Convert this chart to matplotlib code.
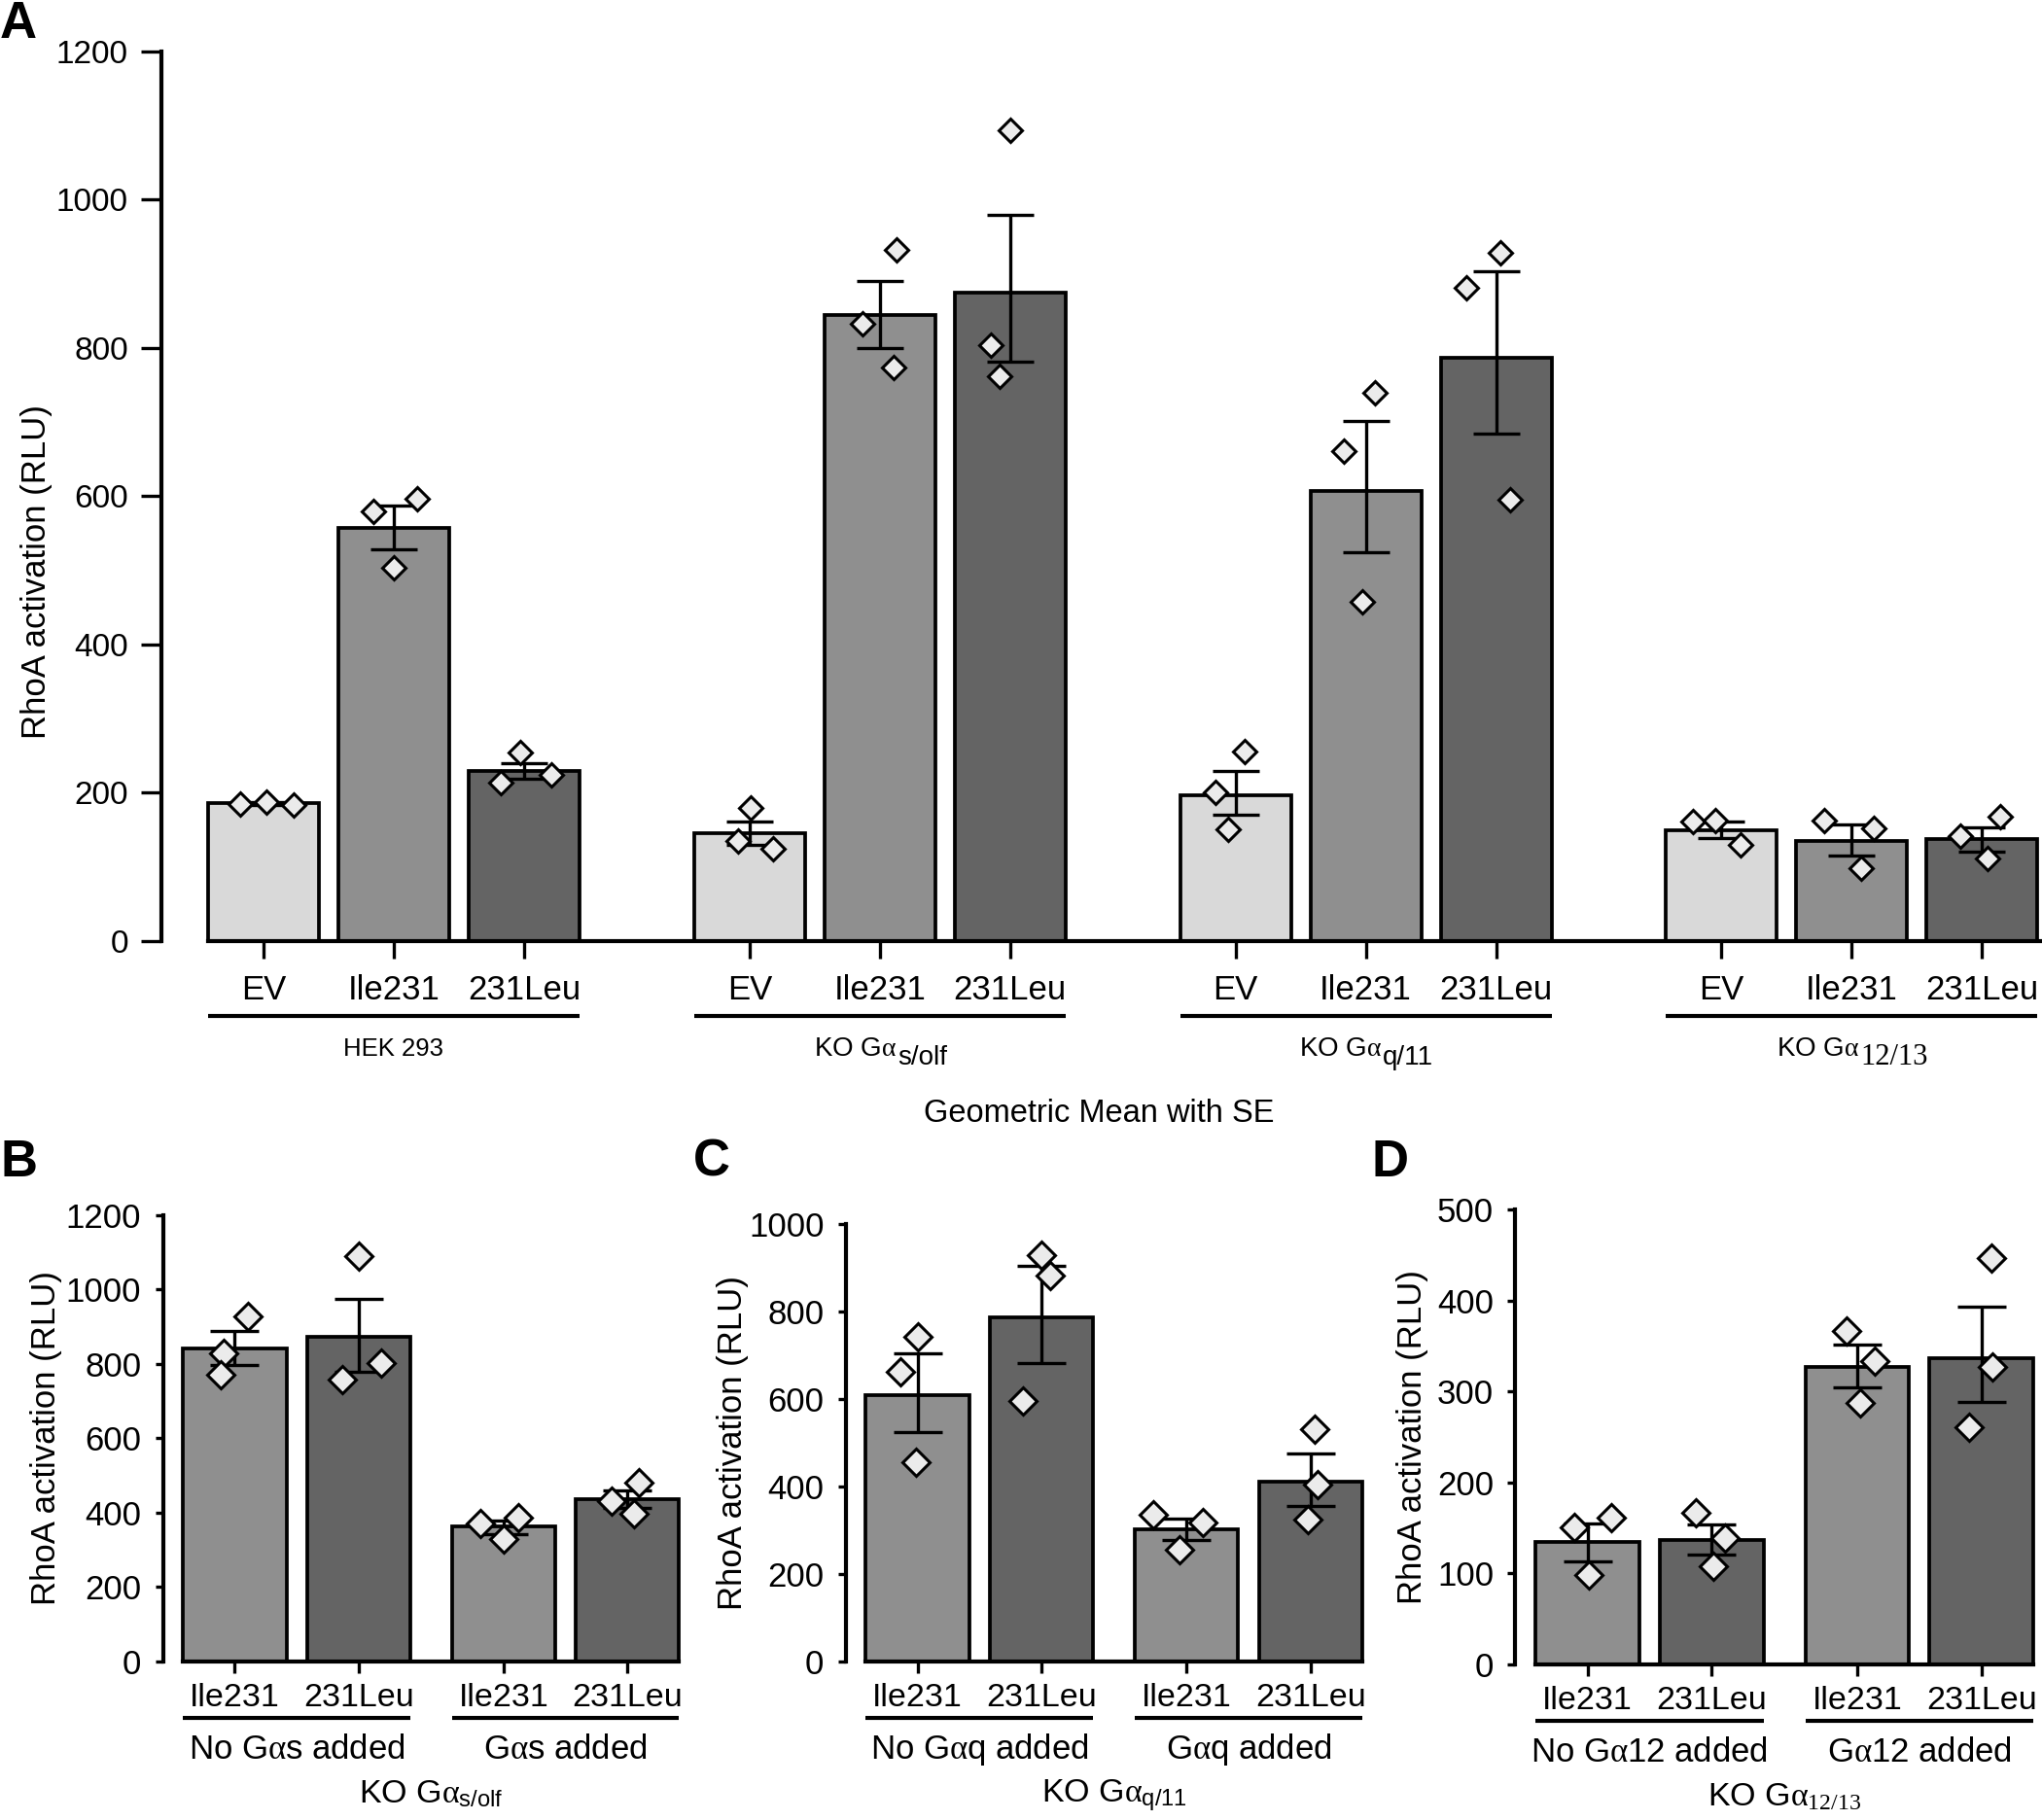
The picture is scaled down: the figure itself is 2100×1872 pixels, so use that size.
import matplotlib.pyplot as plt
from matplotlib.transforms import offset_copy
import numpy as np

plt.rcParams['font.family'] = ['Liberation Sans', 'DejaVu Sans']
plt.rcParams['mathtext.fontset'] = 'custom'
plt.rcParams['mathtext.rm'] = 'Liberation Sans'
plt.rcParams['mathtext.it'] = 'Liberation Serif'
plt.rcParams['mathtext.sf'] = 'Liberation Serif'

LIGHT, MID, DARK = '#d9d9d9', '#8f8f8f', '#646464'
DOT = '#ebebeb'

# ---- Panel A ----
a_conditions = ['EV', 'Ile231', '231Leu']
a_group_main = ['HEK 293', r'KO G$\alpha$', r'KO G$\alpha$', r'KO G$\alpha$']
a_group_sub = ['', 's/olf', 'q/11', '12/13']
a_mean = [[186, 557, 230], [146, 844, 875], [197, 607, 787], [149, 135, 138]]
a_lo = [[184, 528, 219], [130, 800, 781], [170, 524, 684], [139, 115, 121]]
a_hi = [[188, 587, 240], [161, 890, 980], [229, 701, 904], [161, 157, 154]]
a_points = [[[185, 187, 183], [579, 596, 503], [255, 214, 224]],
            [[180, 135, 125], [932, 832, 774], [1093, 804, 762]],
            [[256, 200, 151], [739, 661, 457], [928, 881, 595]],
            [[161, 162, 130], [163, 152, 99], [168, 141, 111]]]
a_jitter = [[[-0.18, 0.02, 0.23], [-0.16, 0.18, 0.0], [-0.03, -0.18, 0.21]],
            [[0.01, -0.09, 0.18], [0.13, -0.13, 0.11], [0.0, -0.15, -0.08]],
            [[0.07, -0.15, -0.06], [0.07, -0.17, -0.03], [0.03, -0.23, 0.11]],
            [[-0.22, -0.05, 0.15], [-0.21, 0.17, 0.07], [0.14, -0.17, 0.04]]]

# ---- Panels B, C, D ----
small_conditions = ['Ile231', '231Leu', 'Ile231', '231Leu']

b_groups = [r'No G$\alpha$s added', r'G$\alpha$s added']
b_title = r'KO G$\alpha_{\mathrm{s/olf}}$'
b_mean = [841, 873, 363, 437]
b_lo = [798, 780, 343, 412]
b_hi = [889, 976, 379, 461]
b_points = [[929, 828, 770], [1091, 802, 758], [388, 370, 330], [481, 430, 397]]
b_jitter = [[0.11, -0.09, -0.11], [0.0, 0.18, -0.13], [0.12, -0.19, 0.0], [0.09, -0.13, 0.05]]

c_groups = [r'No G$\alpha$q added', r'G$\alpha$q added']
c_title = r'KO G$\alpha_{\mathrm{q/11}}$'
c_mean = [608, 787, 302, 411]
c_lo = [524, 682, 278, 354]
c_hi = [703, 905, 326, 474]
c_points = [[741, 661, 456], [928, 881, 595], [334, 316, 254], [531, 403, 323]]
c_jitter = [[0.0, -0.14, -0.01], [0.0, 0.07, -0.15], [-0.27, 0.13, -0.06], [0.03, 0.06, -0.02]]

d_groups = [r'No G$\alpha$12 added', r'G$\alpha$12 added']
d_title = r'KO G$\alpha_{\mathsf{12/13}}$'
d_mean = [134, 137, 327, 336]
d_lo = [113, 120, 304, 288]
d_hi = [155, 154, 351, 393]
d_points = [[150, 161, 98], [166, 139, 108], [366, 333, 287], [446, 327, 261]]
d_jitter = [[-0.11, 0.19, 0.01], [-0.13, 0.11, 0.01], [-0.09, 0.14, 0.02], [0.08, 0.09, -0.10]]


def below(ax, dy, dx=0):
    """x in data, y = dy pixels under the x axis"""
    return offset_copy(ax.get_xaxis_transform(), fig=ax.figure, x=dx, y=-dy, units='dots')


def draw_bars(ax, x, means, lo, hi, pts, jit, colors, width, capsize, ms):
    means = np.array(means, dtype=float)
    yerr = [means - np.array(lo), np.array(hi) - means]
    ax.bar(x, means, width, color=colors, edgecolor='black', linewidth=2.7, zorder=2)
    ax.errorbar(x, means, yerr=yerr, fmt='none', ecolor='black', elinewidth=2.4,
                capsize=capsize, capthick=2.4, zorder=3)
    for xi, p, j in zip(x, pts, jit):
        ax.plot(xi + np.array(j), p, 'D', ms=ms, mfc=DOT, mec='black', mew=2.2,
                ls='none', zorder=4, clip_on=False)


def style_axes(ax, ymax, ystep, x_first, x_last, ylen, xlen, ypad, fs):
    for s in ['top', 'right']:
        ax.spines[s].set_visible(False)
    for s in ['left', 'bottom']:
        ax.spines[s].set_linewidth(3)
    ax.spines['left'].set_bounds(0, ymax)
    ax.spines['bottom'].set_bounds(x_first, x_last)
    ax.set_ylim(0, ymax)
    ax.set_yticks(np.arange(0, ymax + 1, ystep))
    ax.tick_params(axis='y', length=ylen, width=2.4, pad=ypad, labelsize=fs)
    ax.tick_params(axis='x', length=xlen, width=2.4, labelsize=fs)


def sub_label(ax, xc, dy, main, sub, fs, sub_fs, sub_family, drop):
    """main text followed by a separately sized subscript, centred on xc"""
    r = ax.figure.canvas.get_renderer()
    t1 = ax.text(xc, 0, main, fontsize=fs, ha='left', va='baseline')
    w1 = t1.get_window_extent(r).width
    w2 = 0
    t2 = None
    if sub:
        t2 = ax.text(xc, 0, sub, fontsize=sub_fs, family=sub_family, ha='left', va='baseline')
        w2 = t2.get_window_extent(r).width
    total = w1 + w2
    t1.set_transform(below(ax, dy, -total / 2))
    if t2 is not None:
        t2.set_transform(below(ax, dy + drop, -total / 2 + w1 + 1))


fig = plt.figure(figsize=(21, 18.72), dpi=100)

# ---------------- Panel A ----------------
axA = fig.add_axes([0.079, 0.4829, 0.921, 0.4889])
w_a = 0.85
xA = []
for g in range(len(a_group_main)):
    xs = [g * 3.73 + j for j in range(len(a_conditions))]
    xA.append(xs)
    draw_bars(axA, xs, a_mean[g], a_lo[g], a_hi[g], a_points[g], a_jitter[g],
              [LIGHT, MID, DARK], w_a, 17, 12.5)
axA.set_xlim(-0.784, 13.65)
style_axes(axA, 1200, 200, -w_a / 2, 13.65, 15, 13, 9.5, 24)
flatA = [x for xs in xA for x in xs]
axA.set_xticks(flatA, a_conditions * len(a_group_main))
axA.tick_params(axis='x', pad=11.5, labelsize=25)
axA.set_ylabel('RhoA activation (RLU)', fontsize=25)
axA.yaxis.set_label_coords(-0.058, 0.415)
main_size = [18.5, 20, 20, 20]
sub_family = ['Liberation Sans', 'Liberation Sans', 'Liberation Sans', 'Liberation Serif']
sub_size = [20, 20, 20, 22]
for g, xs in enumerate(xA):
    axA.plot([xs[0] - w_a / 2, xs[-1] + w_a / 2], [0, 0], color='black', lw=3,
             transform=below(axA, 77), clip_on=False, solid_capstyle='butt')
    sub_label(axA, np.mean(xs), 118, a_group_main[g], a_group_sub[g], main_size[g],
              sub_size[g], sub_family[g], 9)
fig.text(1130 / 2100, 1 - 1154 / 1872, 'Geometric Mean with SE', ha='center',
         va='baseline', fontsize=23.5)

# ---------------- Panels B, C, D ----------------
w_s = 0.835
xS = [0, 1, 2.17, 3.17]
small = [
    ([0.0798, 0.0871, 0.2535, 0.2452], 1200, 200, b_groups, b_title, b_mean, b_lo, b_hi, b_points, b_jitter),
    ([0.4141, 0.0873, 0.2538, 0.2402], 1000, 200, c_groups, c_title, c_mean, c_lo, c_hi, c_points, c_jitter),
    ([0.7421, 0.0856, 0.2545, 0.2499], 500, 100, d_groups, d_title, d_mean, d_lo, d_hi, d_points, d_jitter),
]
label_x = [-0.195, -0.186, -0.167]
for i, (rect, ymax, ystep, groups, title, mean, lo, hi, pts, jit) in enumerate(small):
    ax = fig.add_axes(rect)
    draw_bars(ax, xS, mean, lo, hi, pts, jit, [MID, DARK, MID, DARK], w_s, 18, 14)
    ax.set_xlim(-0.58, 3.6)
    style_axes(ax, ymax, ystep, xS[0] - w_s / 2, xS[-1] + w_s / 2, 6, 8.3, 10, 25)
    ax.set_xticks(xS, small_conditions)
    ax.tick_params(axis='x', pad=7.5, labelsize=24.5)
    ax.set_ylabel('RhoA activation (RLU)', fontsize=25)
    ax.yaxis.set_label_coords(label_x[i], 0.5)
    for k in range(2):
        xs = xS[2 * k:2 * k + 2]
        ax.plot([xs[0] - w_s / 2, xs[1] + w_s / 2], [0, 0], color='black', lw=3,
                transform=below(ax, 58), clip_on=False, solid_capstyle='butt')
        ax.text(np.mean(xs), 0, groups[k], ha='center', va='baseline', fontsize=25,
                transform=below(ax, 100))
    ax.text(np.mean(xS), 0, title, ha='center', va='baseline', fontsize=24.5,
            transform=below(ax, 145))

# panel letters
fig.text(0.0, 1.0, 'A', ha='left', va='top', fontsize=38, fontweight='bold')
fig.text(0.0, 1 - 1171 / 1872, 'B', ha='left', va='top', fontsize=38, fontweight='bold')
fig.text(713 / 2100, 1 - 1171 / 1872, 'C', ha='left', va='top', fontsize=38, fontweight='bold')
fig.text(1411 / 2100, 1 - 1171 / 1872, 'D', ha='left', va='top', fontsize=38, fontweight='bold')

fig.savefig('out.png', dpi=100)
